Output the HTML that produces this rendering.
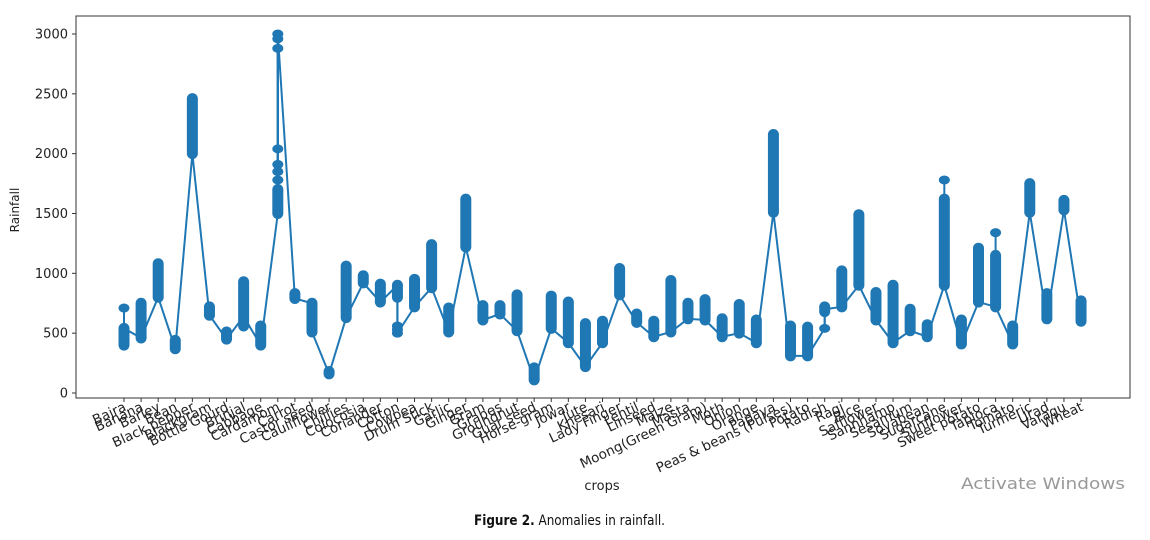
<!DOCTYPE html>
<html><head><meta charset="utf-8"><style>
body{margin:0;background:#fff;width:1150px;height:535px;overflow:hidden}
svg text{font-family:"DejaVu Sans","Liberation Sans",sans-serif}
</style></head><body>
<svg id="s" width="1150" height="535" xmlns="http://www.w3.org/2000/svg"></svg>
<script>
const s=document.getElementById('s');
let h='';
const Y=v=>393-v*0.11967;
h+='<rect x="76" y="16" width="1054" height="382" fill="none" stroke="#333" stroke-width="1"/>';
for(let v=0;v<=3000;v+=500){const y=Y(v);h+=`<line x1="72" x2="76" y1="${y}" y2="${y}" stroke="#333"/><text x="68" y="${y+4.5}" font-size="13" text-anchor="end" fill="#222">${v}</text>`;}
const d=[["Bajra",400,540,400,540,[710]],["Banana",460,750],["Barley",800,1080],["Bean",370,440],["Black pepper",2000,2460,2000,2000],["Blackgram",650,720],["Bottle Gourd",450,510],["Brinjal",560,930,640,640],["Cabbage",400,560],["Cardamom",1500,1700,1500,3000,[1780,1850,1910,2040,2880,2960,3000]],["Carrot",790,830],["Castor seed",510,750,750,510],["Cauliflower",160,180],["Chillies",630,1060],["Colocosia",920,980],["Coriander",760,910],["Cotton",800,900,900,500,[500,530,560]],["Cowpea",720,950],["Drum Stick",880,1240,880,880],["Garlic",510,710],["Ginger",1220,1620,1220,1220],["Gram",610,730],["Grapes",660,730],["Groundnut",520,820],["Guar seed",110,210],["Horse-gram",540,810],["Jowar",420,760],["Jute",220,580],["Khesari",420,600],["Lady Finger",820,1040,820,820],["Lentil",590,660],["Linseed",470,600],["Maize",510,940],["Masta",620,750],["Moong(Green Gram)",610,780],["Moth",470,620],["Onion",500,740],["Orange",420,610],["Papaya",1510,2160,1510,1510],["Peas & beans (Pulses)",310,560],["Potato",310,550],["Radish",680,720,540,700,[540]],["Ragi",720,1020],["Rice",900,1490,900,900],["Safflower",610,840],["Sannhamp",420,900],["Sesamum",520,700],["Soyabean",470,570],["Sugarcane",900,1620,900,900,[1780]],["Sunflower",410,610],["Sweet potato",760,1210],["Tapioca",720,1150,720,720,[1340]],["Tomato",410,560],["Turmeric",1510,1750,1510,1510],["Urad",620,830],["Varagu",1530,1610,1530,1530],["Wheat",600,770]];
const X=i=>124+i*17.09;
let pts=[];
d.forEach((c,i)=>{const a=c[3]!==undefined?c[3]:c[1],b=c[4]!==undefined?c[4]:c[1];pts.push(X(i)+','+Y(a));pts.push(X(i)+','+Y(b));});
h+=`<polyline points="${pts.join(' ')}" fill="none" stroke="#1f77b4" stroke-width="2"/>`;
d.forEach((c,i)=>{const x=X(i);
h+=`<line x1="${x}" x2="${x}" y1="${Y(c[1])}" y2="${Y(c[2])}" stroke="#1f77b4" stroke-width="11" stroke-linecap="round"/>`;
(c[5]||[]).forEach(v=>{h+=`<ellipse cx="${x}" cy="${Y(v)}" rx="5.5" ry="4.5" fill="#1f77b4"/>`;h+=`<line x1="${x}" x2="${x}" y1="${Y(v)}" y2="${Y(c[1])}" stroke="#1f77b4" stroke-width="2"/>`;});
h+=`<line x1="${x}" x2="${x}" y1="398" y2="402" stroke="#333"/>`;
h+=`<text transform="translate(${x+3},410) rotate(-25)" font-size="13.5" text-anchor="end" fill="#222">${c[0].replace('&','&amp;')}</text>`;});
h+='<text transform="translate(19,210) rotate(-90)" font-size="12" text-anchor="middle" font-family="Liberation Sans" fill="#222">Rainfall</text>';
h+='<text x="602" y="490" font-size="13" text-anchor="middle" fill="#222">crops</text>';
h+='<text x="961" y="489" font-size="16" textLength="164" lengthAdjust="spacingAndGlyphs" fill="#999">Activate Windows</text>';
h+='<text x="474" y="525" font-size="14" textLength="191" lengthAdjust="spacingAndGlyphs" font-family="Liberation Sans" fill="#111"><tspan font-weight="bold">Figure 2.</tspan> Anomalies in rainfall.</text>';
s.innerHTML=h;
</script>
</body></html>
